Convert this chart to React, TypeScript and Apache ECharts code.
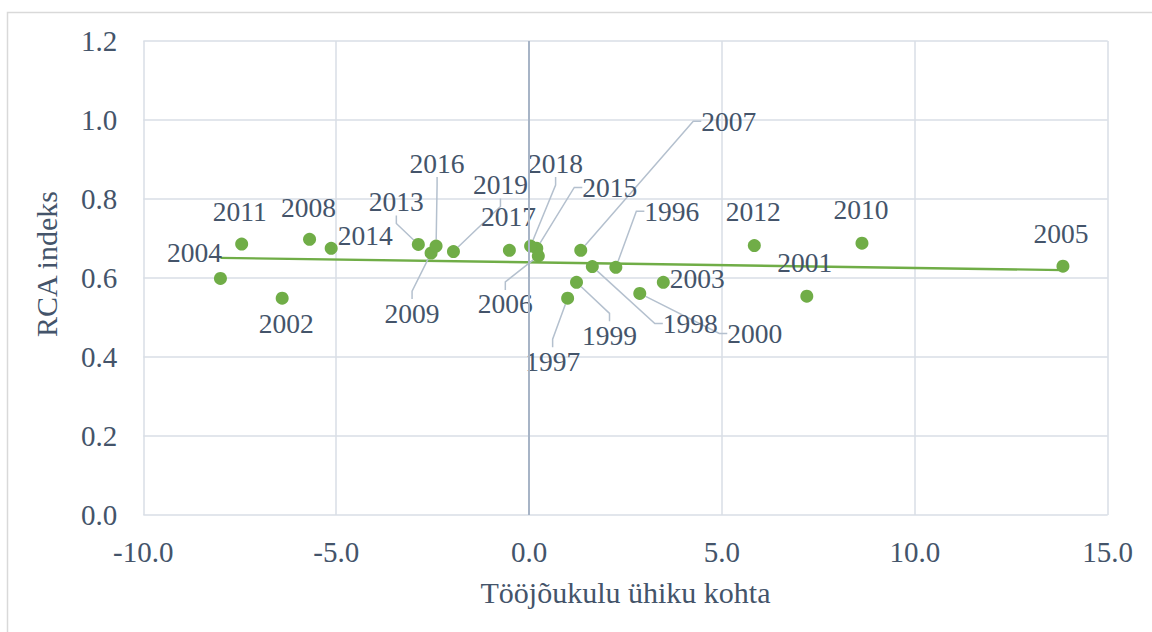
import React, { useEffect, useRef } from "react";
import * as echarts from "echarts";

const years = [
  "1996", "1997", "1998", "1999", "2000", "2001", "2002", "2003", "2004", "2005", "2006", "2007",
  "2008", "2009", "2010", "2011", "2012", "2013", "2014", "2015", "2016", "2017", "2018", "2019",
];
const laborCost = [
  2.25, 1.0, 1.64, 1.23, 2.87, 7.2, -6.4, 3.48, -8.0, 13.84, 0.24, 1.34,
  -5.69, -2.54, 8.63, -7.45, 5.84, -2.87, -5.13, 0.2, -2.41, -0.51, 0.04, -1.96,
];
const rcaIndex = [
  0.627, 0.549, 0.629, 0.589, 0.561, 0.554, 0.549, 0.589, 0.599, 0.63, 0.656, 0.67,
  0.698, 0.663, 0.688, 0.686, 0.682, 0.685, 0.675, 0.675, 0.681, 0.67, 0.681, 0.667,
];
const trendX = [-8.0, 13.84];
const trendY = [0.651, 0.62];
const xTicks = { min: -10, max: 15, step: 5 };
const yTicks = { min: 0, max: 1.2, step: 0.2 };

// label placement (pixel offsets from point to label centre) and leader-line flags
const labelOffsets: [number, number][] = [
  [56, -56], [-15, 63], [98, 57], [33, 53], [115, 40], [-2, -34], [4, 25], [34, -4],
  [-26, -26], [-2, -33], [-33, 48], [148, -129], [-1, -32], [-19, 60], [-1, -34], [-2, -33],
  [-1, -34], [-22, -43], [34, -13], [73, -61], [1, -83], [-1, -34], [25, -83], [47, -67],
];
const leaders = [
  true, true, true, true, true, false, false, false, false, false, true, true,
  false, true, false, false, false, true, false, true, true, false, true, true,
];

const TEXT = "#44546A";
const GRID = "#D9DEE6";
const GREEN = "#70AD47";
const FONT = "Liberation Serif";

export default function App() {
  const ref = useRef<HTMLDivElement>(null);
  useEffect(() => {
    if (!ref.current) return;
    const chart = echarts.init(ref.current, undefined, { renderer: "svg" });
    const points = years.map((y, i) => ({
      value: [laborCost[i], rcaIndex[i]],
      name: y,
      labelLine: { show: leaders[i] },
    }));
    const tickLabel = {
      color: TEXT,
      fontSize: 29,
      fontFamily: FONT,
      fontWeight: "normal",
      fontStyle: "normal",
    };
    chart.setOption({
      animation: false,
      backgroundColor: "#ffffff",
      textStyle: { fontFamily: FONT },
      graphic: [
        {
          type: "rect",
          shape: { x: 7.5, y: 12.5, width: 1300, height: 700 },
          style: { fill: "none", stroke: "#D9D9D9", lineWidth: 1.5 },
          silent: true,
        },
      ],
      grid: { left: 143.3, top: 41, right: 44.3, bottom: 117, containLabel: false },
      xAxis: {
        type: "value",
        min: xTicks.min,
        max: xTicks.max,
        interval: xTicks.step,
        name: "Tööjõukulu ühiku kohta",
        nameLocation: "middle",
        nameGap: 62,
        nameTextStyle: { color: TEXT, fontSize: 30, fontFamily: FONT },
        axisLine: { show: false },
        axisTick: { show: false },
        axisLabel: {
          ...tickLabel,
          margin: 22,
          formatter: (v: number) => v.toFixed(1),
        },
        splitLine: { show: true, lineStyle: { color: GRID, width: 1.5 } },
      },
      yAxis: {
        type: "value",
        min: yTicks.min,
        max: yTicks.max,
        interval: yTicks.step,
        name: "RCA indeks",
        nameLocation: "middle",
        nameGap: 82,
        nameTextStyle: { color: TEXT, fontSize: 30, fontFamily: FONT, padding: [0, 0, 0, 28] },
        axisLine: { show: false },
        axisTick: { show: false },
        axisLabel: {
          ...tickLabel,
          margin: 26,
          formatter: (v: number) => v.toFixed(1),
        },
        splitLine: { show: true, lineStyle: { color: GRID, width: 1.5 } },
      },
      series: [
        {
          type: "line",
          data: trendX.map((x, i) => [x, trendY[i]]),
          showSymbol: false,
          symbol: "none",
          lineStyle: { color: GREEN, width: 2.4 },
          silent: true,
          z: 3,
          markLine: {
            silent: true,
            symbol: "none",
            label: { show: false },
            lineStyle: { color: "#A7B4C6", width: 2, type: "solid" },
            data: [{ xAxis: 0 }],
          },
        },
        {
          type: "scatter",
          data: points,
          symbol: "circle",
          symbolSize: 13,
          itemStyle: { color: GREEN, opacity: 1 },
          z: 4,
          label: {
            show: true,
            position: "inside",
            formatter: (p: any) => p.name,
            ...tickLabel,
            fontSize: 27.5,
            lineHeight: 26,
          },
          labelLine: {
            show: false,
            length2: 8,
            lineStyle: { color: "#B4C0CE", width: 1.5 },
          },
          labelLayout: (p: any) => {
            const o = labelOffsets[p.dataIndex];
            return { dx: o[0], dy: o[1] };
          },
        },
      ],
    });
    return () => chart.dispose();
  }, []);
  return (
    <div
      ref={ref}
      style={{ position: "fixed", left: 0, top: 0, width: 1152, height: 632, background: "#fff" }}
    />
  );
}
